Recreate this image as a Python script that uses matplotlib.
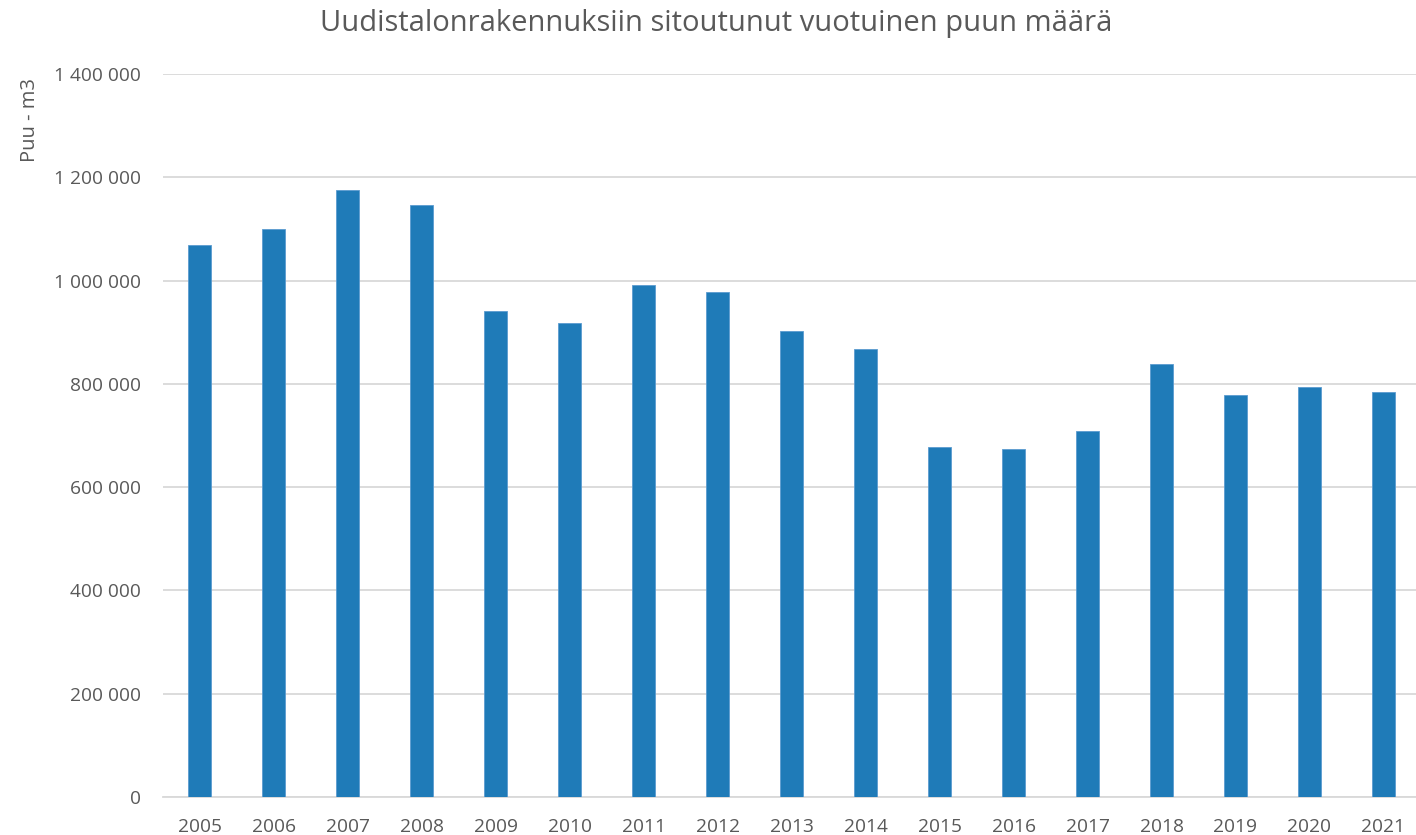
import numpy as np
import matplotlib.pyplot as plt
from matplotlib.ticker import FuncFormatter

years = ['2005', '2006', '2007', '2008', '2009', '2010', '2011', '2012', '2013',
         '2014', '2015', '2016', '2017', '2018', '2019', '2020', '2021']
puu_m3 = [1068000, 1099000, 1175000, 1147000, 941000, 918000, 991000, 978000, 902000,
          867000, 678000, 674000, 708000, 838000, 778000, 794000, 784000]

txt = '#595959'
plt.rcParams['font.family'] = ['Open Sans', 'DejaVu Sans']

fig = plt.figure(figsize=(14.16, 8.35), dpi=100)
ax = fig.add_axes([0.1151, 0.0455, 0.888, 0.8659])

x = np.arange(len(years))
ax.bar(x, puu_m3, width=0.31, color='#1f7bb8', edgecolor='#5b9bd0', linewidth=0.6, zorder=3)

ax.set_xlim(-0.5, len(years) - 0.5)
ax.set_ylim(0, 1400000)
ax.set_yticks(np.arange(0, 1400001, 200000))
ax.yaxis.set_major_formatter(FuncFormatter(lambda v, p: f'{int(v):,}'.replace(',', ' ')))
ax.set_xticks(x)
ax.set_xticklabels(years)

ax.grid(axis='y', color='#d9d9d9', linewidth=1.3, zorder=0)
for s in ['top', 'right', 'left']:
    ax.spines[s].set_visible(False)
ax.spines['bottom'].set_color('#d9d9d9')
ax.spines['bottom'].set_linewidth(1.3)
ax.tick_params(axis='both', length=0, colors=txt, labelsize=13.8)
ax.tick_params(axis='y', pad=16)
ax.tick_params(axis='x', pad=15)

fig.text(0.506, 0.972, 'Uudistalonrakennuksiin sitoutunut vuotuinen puun määrä',
         ha='center', va='center', fontsize=21, color=txt)
fig.text(0.021, 0.856, 'Puu - m3', rotation=90, ha='center', va='center',
         fontsize=14.5, color=txt)

fig.savefig('out.png', dpi=100)
